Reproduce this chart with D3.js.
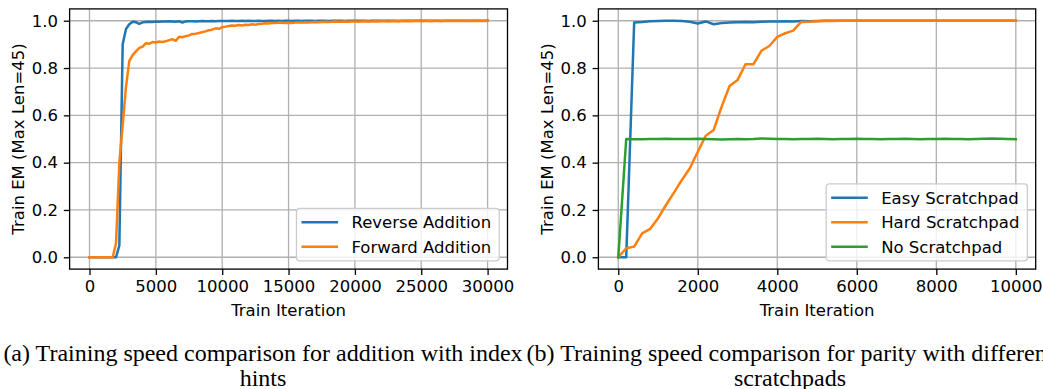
<!DOCTYPE html>
<html>
<head>
<meta charset="utf-8">
<script src="https://cdn.jsdelivr.net/npm/d3@7"></script>
<style>
  body { margin: 0; background: #fff; }
  svg { display: block; font-family: "DejaVu Sans", sans-serif; }
</style>
</head>
<body>
<div id="vis-container"></div>
<script>
// ---- data ----
var additionIters = d3.range(0, 30001, 250);
var reverseAddition = [0,0,0,0,0,0,0,0,0,0.05,0.9,0.965,0.985,0.996,0.994,0.987,0.993,0.995,0.996,0.995,0.997,
  0.996,0.997,0.997,0.998,0.997,0.996,0.998,0.992,0.997,0.998,
  0.998,0.997,0.998,0.999,0.998,0.998,0.999,0.998,0.999,0.999,
  0.999,0.999,1.0,0.999,0.999,1.0,0.999,1.0,0.999,0.999,
  1.0,0.999,0.999,1.0,1.0,0.999,1.0,0.999,1.0,1.0,
  0.999,1.0,1.0,0.999,1.0,1.0,1.0,0.999,1.0,1.0,
  1.0,0.999,1.0,1.0,1.0,1.0,0.999,1.0,1.0,1.0,
  1.0,1.0,1.0,0.999,1.0,1.0,1.0,1.0,1.0,1.0,
  1.0,1.0,0.999,1.0,1.0,1.0,1.0,1.0,1.0,1.0,
  1.0,1.0,1.0,1.0,1.0,0.999,1.0,1.0,1.0,1.0,
  1.0,1.0,1.0,1.0,1.0,1.0,1.0,1.0,1.0,1.0];
var forwardAddition = [0,0,0,0,0,0,0,0,0.06,0.4,0.56,0.72,0.83,0.855,0.87,0.885,0.89,0.905,0.903,0.91,0.908,
  0.912,0.91,0.913,0.918,0.922,0.915,0.932,0.93,0.935,0.938,
  0.944,0.945,0.948,0.952,0.955,0.96,0.962,0.968,0.966,0.973,
  0.975,0.978,0.98,0.979,0.982,0.98,0.983,0.982,0.985,0.983,
  0.986,0.987,0.989,0.988,0.99,0.99,0.992,0.991,0.99,0.991,
  0.99,0.992,0.993,0.992,0.994,0.993,0.994,0.995,0.994,0.995,
  0.996,0.995,0.996,0.997,0.996,0.996,0.997,0.996,0.997,0.997,
  0.996,0.997,0.998,0.997,0.997,0.998,0.997,0.998,0.998,0.997,
  0.998,0.998,0.999,0.998,0.998,0.999,0.998,0.999,0.999,0.998,
  0.999,0.999,0.998,0.999,0.999,1.0,0.999,0.999,1.0,0.999,
  0.999,1.0,0.999,0.999,1.0,0.999,1.0,0.999,0.999,1.0];

var parityIters = d3.range(0, 10001, 200);
var easyScratchpad = [0,0,0.993,0.995,0.998,0.999,1.0,1.0,0.999,0.996,
  0.988,0.997,0.985,0.99,0.992,0.994,0.995,0.994,0.996,0.997,
  0.997,0.998,0.997,0.999,0.998,0.999,1.0,1.0,1.0,1.0,
  1.0,1.0,1.0,1.0,1.0,1.0,1.0,1.0,1.0,1.0,
  1.0,1.0,1.0,1.0,1.0,1.0,1.0,1.0,1.0,1.0,1.0];
var hardScratchpad = [0,0.038,0.045,0.101,0.12,0.165,0.221,0.273,0.327,0.376,
  0.446,0.514,0.538,0.637,0.724,0.749,0.816,0.816,0.873,0.893,
  0.932,0.947,0.958,0.995,0.996,0.998,0.999,0.999,1.0,1.0,
  1.0,1.0,1.0,1.0,1.0,1.0,1.0,1.0,1.0,1.0,
  1.0,1.0,1.0,1.0,1.0,1.0,1.0,1.0,1.0,1.0,1.0];
var noScratchpad = [0,0.5,0.499,0.499,0.5,0.5,0.501,0.5,0.5,0.5,
  0.501,0.5,0.499,0.498,0.499,0.5,0.499,0.5,0.502,0.501,
  0.5,0.5,0.499,0.5,0.5,0.501,0.5,0.499,0.5,0.5,
  0.501,0.5,0.5,0.499,0.5,0.5,0.501,0.5,0.499,0.5,
  0.5,0.501,0.5,0.5,0.499,0.5,0.501,0.502,0.501,0.5,0.499];

var additionTicks = [0, 5000, 10000, 15000, 20000, 25000, 30000];
var parityTicks = [0, 2000, 4000, 6000, 8000, 10000];
var yTicks = [0, 0.2, 0.4, 0.6, 0.8, 1.0];

var colors = ["#1f77b4", "#ff7f0e", "#2ca02c"];
var fontSize = 16.5;

var svg = d3.select("#vis-container")
  .append("svg")
    .attr("width", 1043)
    .attr("height", 389);

// draws one matplotlib-like panel
function drawPanel(opts) {
  var width = opts.right - opts.left;
  var height = 260.2;
  var top = 8.9;

  var g = svg.append("g")
    .attr("transform", "translate(" + opts.left + "," + top + ")");

  var pad = (opts.xmax - opts.xmin) * 0.05;
  var xScale = d3.scaleLinear().domain([opts.xmin - pad, opts.xmax + pad]).range([0, width]);
  var yScale = d3.scaleLinear().domain([-0.05, 1.05]).range([height, 0]);

  // grid
  g.selectAll(".gx").data(opts.xticks).enter().append("line")
    .attr("x1", d => xScale(d)).attr("x2", d => xScale(d))
    .attr("y1", 0).attr("y2", height)
    .attr("stroke", "#b0b0b0").attr("stroke-width", 1.3);
  g.selectAll(".gy").data(yTicks).enter().append("line")
    .attr("x1", 0).attr("x2", width)
    .attr("y1", d => yScale(d)).attr("y2", d => yScale(d))
    .attr("stroke", "#b0b0b0").attr("stroke-width", 1.3);

  // lines
  var line = d3.line()
    .x((d, i) => xScale(opts.xs[i]))
    .y(d => yScale(d));
  opts.series.forEach(function(s, i) {
    g.append("path")
      .datum(s.values)
      .attr("fill", "none")
      .attr("stroke", colors[i])
      .attr("stroke-width", 2.5)
      .attr("stroke-linejoin", "round")
      .attr("stroke-linecap", "square")
      .attr("d", line);
  });

  // axes
  var xAxis = d3.axisBottom(xScale).tickValues(opts.xticks).tickSize(5.8).tickPadding(5.8)
    .tickFormat(d3.format("d"));
  var xg = g.append("g").attr("transform", "translate(0," + height + ")").call(xAxis);
  var yAxis = d3.axisLeft(yScale).tickValues(yTicks).tickSize(5.8).tickPadding(5.8)
    .tickFormat(d3.format(".1f"));
  var yg = g.append("g").call(yAxis);
  [xg, yg].forEach(function(a) {
    a.select(".domain").remove();
    a.selectAll("line").attr("stroke", "#000").attr("stroke-width", 1.3);
    a.selectAll("text").attr("fill", "#000").style("font-size", fontSize + "px")
      .style("font-family", "DejaVu Sans");
  });

  // spines
  g.append("rect")
    .attr("width", width).attr("height", height)
    .attr("fill", "none").attr("stroke", "#000").attr("stroke-width", 1.3);

  // axis labels
  g.append("text")
    .attr("x", width / 2).attr("y", 316 - top)
    .attr("text-anchor", "middle")
    .style("font-size", fontSize + "px")
    .text("Train Iteration");
  g.append("text")
    .attr("transform", "translate(-45.6," + (height / 2) + ") rotate(-90)")
    .attr("text-anchor", "middle")
    .style("font-size", fontSize + "px")
    .text("Train EM (Max Len=45)");

  // legend (lower right)
  var rowH = 24.5;
  var legH = 14 * 2 + rowH * (opts.series.length - 1);
  var leg = g.append("g");
  var box = leg.append("rect")
    .attr("rx", 3).attr("ry", 3)
    .attr("fill", "#fff").attr("fill-opacity", 0.8)
    .attr("stroke", "#cccccc").attr("stroke-width", 1.3);
  var maxW = 0;
  opts.series.forEach(function(s, i) {
    var row = leg.append("g").attr("transform", "translate(0," + (14 + i * rowH) + ")");
    row.append("line")
      .attr("x1", 5).attr("x2", 41.6).attr("y1", 0).attr("y2", 0)
      .attr("stroke", colors[i]).attr("stroke-width", 2.5);
    var t = row.append("text")
      .attr("x", 55).attr("dy", "0.35em")
      .style("font-size", fontSize + "px")
      .text(s.name);
    maxW = Math.max(maxW, t.node().getComputedTextLength());
  });
  var legW = 55 + maxW + 8;
  box.attr("width", legW).attr("height", legH);
  leg.attr("transform", "translate(" + (width - 8.3 - legW) + "," + (height - 8.3 - legH) + ")");
}

drawPanel({
  left: 69.6, right: 507.5, xmin: 0, xmax: 30000,
  xs: additionIters, xticks: additionTicks,
  series: [
    { name: "Reverse Addition", values: reverseAddition },
    { name: "Forward Addition", values: forwardAddition }
  ]
});

drawPanel({
  left: 598.4, right: 1035.7, xmin: 0, xmax: 10000,
  xs: parityIters, xticks: parityTicks,
  series: [
    { name: "Easy Scratchpad", values: easyScratchpad },
    { name: "Hard Scratchpad", values: hardScratchpad },
    { name: "No Scratchpad", values: noScratchpad }
  ]
});

// captions (the second one runs past the right edge, as in the source figure)
var captions = [
  { x: 263, lines: ["(a) Training speed comparison for addition with index", "hints"] },
  { x: 790, lines: ["(b) Training speed comparison for parity with different", "scratchpads"] }
];
captions.forEach(function(c) {
  c.lines.forEach(function(l, i) {
    svg.append("text")
      .attr("x", c.x).attr("y", 361 + i * 24.5)
      .attr("text-anchor", "middle")
      .style("font-family", "Liberation Serif, Times New Roman, serif")
      .style("font-size", "24px")
      .text(l);
  });
});
</script>
</body>
</html>
